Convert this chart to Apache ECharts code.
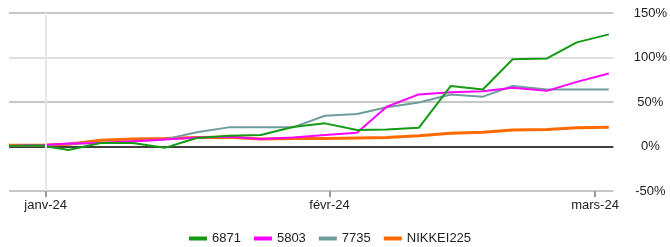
<!DOCTYPE html>
<html>
<head>
<meta charset="utf-8">
<script src="https://cdn.jsdelivr.net/npm/echarts@6/dist/echarts.min.js"></script>
<style>
	html, body { margin: 0; padding: 0; background: #fff; }
	#main { width: 670px; height: 247px; }
</style>
</head>
<body>
<div id="main"></div>
<script>
// dates of each observation
var dates = [
	'2023-12-28T00:00', '2023-12-31T12:00', '2024-01-03T12:00', '2024-01-07T00:00', '2024-01-10T12:00',
	'2024-01-14T00:00', '2024-01-17T12:00', '2024-01-21T00:00', '2024-01-24T12:00', '2024-01-28T00:00',
	'2024-01-31T12:00', '2024-02-04T00:00', '2024-02-07T06:00', '2024-02-10T18:00', '2024-02-14T06:00',
	'2024-02-17T18:00', '2024-02-21T00:00', '2024-02-24T18:00', '2024-02-28T00:00', '2024-03-02T12:00'
];
// cumulative return, %
var s6871 = [0.5, 1, -4, 4, 4, -1.5, 9.5, 12, 13, 22, 26, 18.5, 19, 21, 68, 64, 98, 99, 117, 126];
var s5803 = [0.5, 1.5, 3.5, 4, 6, 8, 10, 11, 8.5, 10, 13, 15.5, 44.6, 58.5, 61, 62, 66, 62.5, 72.6, 82];
var s7735 = [0.5, 1.5, 3, 4, 5.5, 8, 16, 21.5, 21.5, 21.5, 34.5, 36.5, 44, 49.5, 58.5, 56, 68, 64, 64, 64];
var nikkei = [1.5, 1.5, 2.5, 7, 8.5, 9, 10, 10.5, 8.5, 9, 9, 9.5, 10, 12, 15, 16, 18.5, 19, 21, 21.5];

var seriesNames = ['6871', '5803', '7735', 'NIKKEI225'];
var monthTicks = ['2024-01-01T00:00', '2024-02-01T00:00', '2024-03-01T00:00'];
var monthLabels = ['janv-24', 'févr-24', 'mars-24'];
var xRange = ['2023-12-28T00:00', '2024-03-03T00:00'];
var yTicks = [-50, 0, 50, 100, 150];

function ts(d) { return +new Date(d); }
function pairs(vals) {
	return vals.map(function (v, i) { return [ts(dates[i]), v]; });
}
var tickTimes = monthTicks.map(ts);

var font = '"Liberation Sans", Arial, sans-serif';
var myChart = echarts.init(document.getElementById('main'));
myChart.setOption({
	animation: false,
	textStyle: { fontFamily: font },
	grid: { left: 9, right: 56, top: 13, bottom: 56 },
	legend: {
		top: 227,
		left: 184,
		icon: 'rect',
		itemWidth: 18,
		itemHeight: 4,
		itemGap: 13,
		textStyle: { fontSize: 13, color: '#222', fontFamily: font },
		data: seriesNames
	},
	xAxis: {
		type: 'value',
		min: ts(xRange[0]),
		max: ts(xRange[1]),
		axisLine: { show: false, onZero: false },
		splitLine: { show: false },
		axisTick: {
			show: true,
			customValues: tickTimes,
			length: 6,
			lineStyle: { color: '#999', width: 2 }
		},
		axisLabel: {
			customValues: tickTimes,
			margin: 8,
			fontSize: 13,
			color: '#222',
			fontFamily: font,
			formatter: function (val) {
				var i = tickTimes.indexOf(val);
				return i >= 0 ? monthLabels[i] : '';
			}
		}
	},
	yAxis: {
		type: 'value',
		position: 'right',
		min: yTicks[0],
		max: yTicks[yTicks.length - 1],
		interval: 50,
		axisLine: { show: false },
		axisTick: { show: false },
		axisLabel: {
			align: 'center',
			margin: 37,
			fontSize: 13,
			color: '#222',
			fontFamily: font,
			formatter: '{value}%'
		},
		splitLine: {
			lineStyle: { color: ['#b4b4b4', '#000', '#b4b4b4', '#d4d4d4', '#b4b4b4'], width: 1.5 }
		}
	},
	series: [
		{
			name: seriesNames[3], type: 'line', data: pairs(nikkei), showSymbol: false, z: 1,
			lineStyle: { color: '#ff6a00', width: 3 }, itemStyle: { color: '#ff6a00' },
			markLine: {
				silent: true, symbol: 'none', label: { show: false },
				lineStyle: { color: '#e8e8e8', width: 2, type: 'solid' },
				data: [{ xAxis: tickTimes[0] }]
			}
		},
		{
			name: seriesNames[2], type: 'line', data: pairs(s7735), showSymbol: false, z: 2,
			lineStyle: { color: '#6f9c9c', width: 2 }, itemStyle: { color: '#6f9c9c' }
		},
		{
			name: seriesNames[1], type: 'line', data: pairs(s5803), showSymbol: false, z: 3,
			lineStyle: { color: '#ff00ff', width: 2 }, itemStyle: { color: '#ff00ff' }
		},
		{
			name: seriesNames[0], type: 'line', data: pairs(s6871), showSymbol: false, z: 4,
			lineStyle: { color: '#159a15', width: 2 }, itemStyle: { color: '#159a15' }
		}
	]
});
</script>
</body>
</html>
